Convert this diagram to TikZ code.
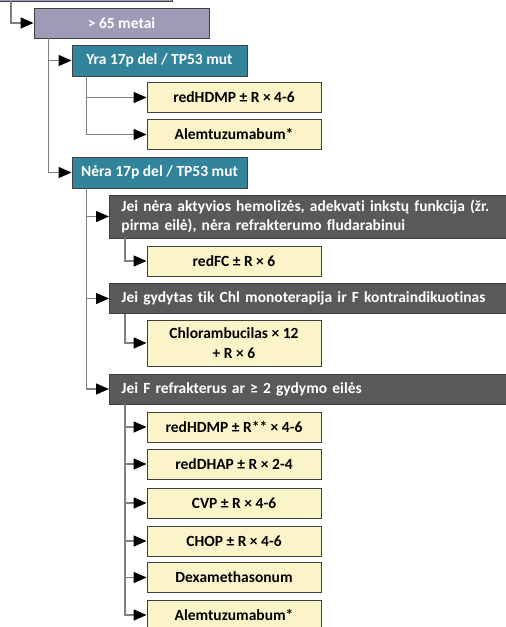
\documentclass[tikz,border=0pt]{standalone}
\usepackage{fontspec}
\setmainfont{Carlito}[Ligatures=NoCommon]
\usetikzlibrary{arrows.meta}
\definecolor{lav}{HTML}{A09AB6}
\definecolor{teal}{HTML}{31849B}
\definecolor{dgrey}{HTML}{595959}
\definecolor{yel}{HTML}{FAF4C8}
\definecolor{bord}{HTML}{404040}
\definecolor{linec}{HTML}{808080}
\tikzset{
  base/.style={draw=bord, line width=0.9pt, rectangle, inner sep=2pt, font=\bfseries\fontsize{15.5}{19.5}\selectfont},
  agebox/.style={base, fill=lav, text=white, minimum width=175pt, minimum height=30pt},
  tealbox/.style={base, fill=teal, text=white, minimum width=175pt, minimum height=31pt},
  darkbox/.style={base, fill=dgrey, text=white, anchor=west, text width=420pt, align=left, inner xsep=12pt, minimum height=30pt},
  yelbox/.style={base, fill=yel, text=black, minimum width=174pt, minimum height=30pt, align=center},
  conn/.style={draw=linec, line width=1.4pt, -{Triangle[length=13pt,width=11pt,color=black]}},
}
\begin{document}
\begin{tikzpicture}[x=1pt,y=-1pt]
\useasboundingbox (0,0) rectangle (506,627);
\clip (0,0) rectangle (506,627);
\node[base, fill=lav, minimum width=184pt, minimum height=30pt] (top) at (80,-14) {};
\node[agebox] (age) at (121.5,23) {> 65 metai};
\node[tealbox] (yra) at (159.5,60.5) {Yra 17p del / TP53 mut};
\node[yelbox] (y1) at (234,97.5) {redHDMP ± R × 4-6};
\node[yelbox] (y2) at (234,134.5) {Alemtuzumabum*};
\node[tealbox] (nera) at (159.5,172.5) {Nėra 17p del / TP53 mut};
\node[darkbox, minimum height=43pt] (d1) at (109,216.5) {Jei nėra aktyvios hemolizės, adekvati inkstų funkcija (žr.\\pirma eilė), nėra refrakterumo fludarabinui};
\node[yelbox] (f1) at (234,261) {redFC ± R × 6};
\node[darkbox] (d2) at (109,298.5) {Jei gydytas tik Chl monoterapija ir F kontraindikuotinas};
\node[yelbox, minimum height=46pt] (f2) at (234,343) {Chlorambucilas × 12\\+ R × 6};
\node[darkbox] (d3) at (109,389) {Jei F refrakterus ar ≥ 2 gydymo eilės};
\node[yelbox] (g1) at (234,427) {redHDMP ± R** × 4-6};
\node[yelbox] (g2) at (234,464) {redDHAP ± R × 2-4};
\node[yelbox] (g3) at (234,503) {CVP ± R × 4-6};
\node[yelbox] (g4) at (234,541) {CHOP ± R × 4-6};
\node[yelbox] (g5) at (234,577.5) {Dexamethasonum};
\node[yelbox] (g6) at (234,615) {Alemtuzumabum*};
% connectors
\draw[conn] ([xshift=23.5pt]top.south west) |- (age.west);
\foreach \c in {yra,nera}
  \draw[conn] ([xshift=15pt]age.south west) |- (\c.west);
\foreach \c in {y1,y2}
  \draw[conn] ([xshift=15pt]yra.south west) |- (\c.west);
\foreach \c in {d1,d2,d3}
  \draw[conn] ([xshift=15pt]nera.south west) |- (\c.west);
\draw[conn] ([xshift=16pt]d1.south west) |- (f1.west);
\draw[conn] ([xshift=16pt]d2.south west) |- (f2.west);
\foreach \c in {g1,g2,g3,g4,g5,g6}
  \draw[conn] ([xshift=16pt]d3.south west) |- (\c.west);
\end{tikzpicture}
\end{document}
